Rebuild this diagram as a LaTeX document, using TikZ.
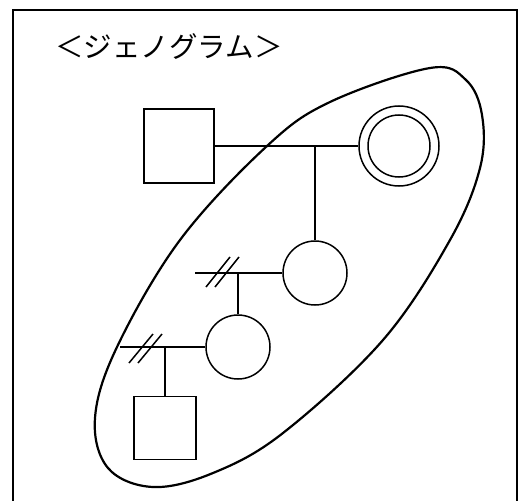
\documentclass[tikz,border=0pt]{standalone}
\usepackage{fontspec}
\newfontfamily\jpfont{Noto Sans CJK JP}
\usetikzlibrary{calc}
\tikzset{
  ml/.style     = {rectangle, draw, inner sep=0pt, line width=1.5pt},
  fm/.style     = {circle, draw, minimum size=64pt, inner sep=0pt, line width=1.5pt},
  edg/.style    = {line width=1.5pt},
  brk/.style    = {line width=1.5pt},
  frm/.style    = {line width=2.4pt},
  enc/.style    = {line width=2.2pt},
  ttl/.style    = {font=\jpfont\fontsize{28.5}{28.5}\selectfont},
}

\begin{document}
\begin{tikzpicture}[x=1pt, y=-1pt]
  \clip (0,0) rectangle (521,500);
  \draw[frm] (13,520) -- (13,10) -- (517,10) -- (517,520);
  \node[ttl] (ttl) at (169,47) {＜ジェノグラム＞};
  % grandparents
  \node[ml, minimum width=70pt, minimum height=74pt] (gf) at (179,146) {};
  \node[fm, minimum size=80pt] (gm) at (399,146) {};
  \draw[edg] (gm) circle (31pt);
  % mother and daughter
  \node[fm] (mo) at (315,273) {};
  \node[fm] (da) at (238,347) {};
  \node[ml, minimum width=62pt, minimum height=63pt] (sn) at (165,428) {};
  \coordinate (ex1) at (195,273);
  \coordinate (ex2) at (120,347);
  % lines
  \draw[edg] (gf.east) -- (gm.west);
  \draw[edg] (mo.north) -- (mo.north |- gf.east);
  \draw[edg] (mo.west) -- (ex1);
  \draw[edg] (da.north) -- (da.north |- mo.west);
  \draw[edg] (da.west) -- (ex2);
  \draw[edg] (sn.north) -- (sn.north |- da.west);
  % divorce marks
  \foreach \p in {218,227}
    \draw[brk] (\p-12,287) -- (\p+12,257);
  \foreach \p in {141,150}
    \draw[brk] (\p-12,363) -- (\p+12,334);
  % enclosure
  \draw[enc] plot[smooth cycle, tension=0.6] coordinates {
    (330,102) (430,68) (466,80) (482,115) (480,168) (450,240) (383,340) (283,433)
    (213,473) (153,487) (108,468) (95,418) (117,347) (180,240) (267,146)};
\end{tikzpicture}
\end{document}
